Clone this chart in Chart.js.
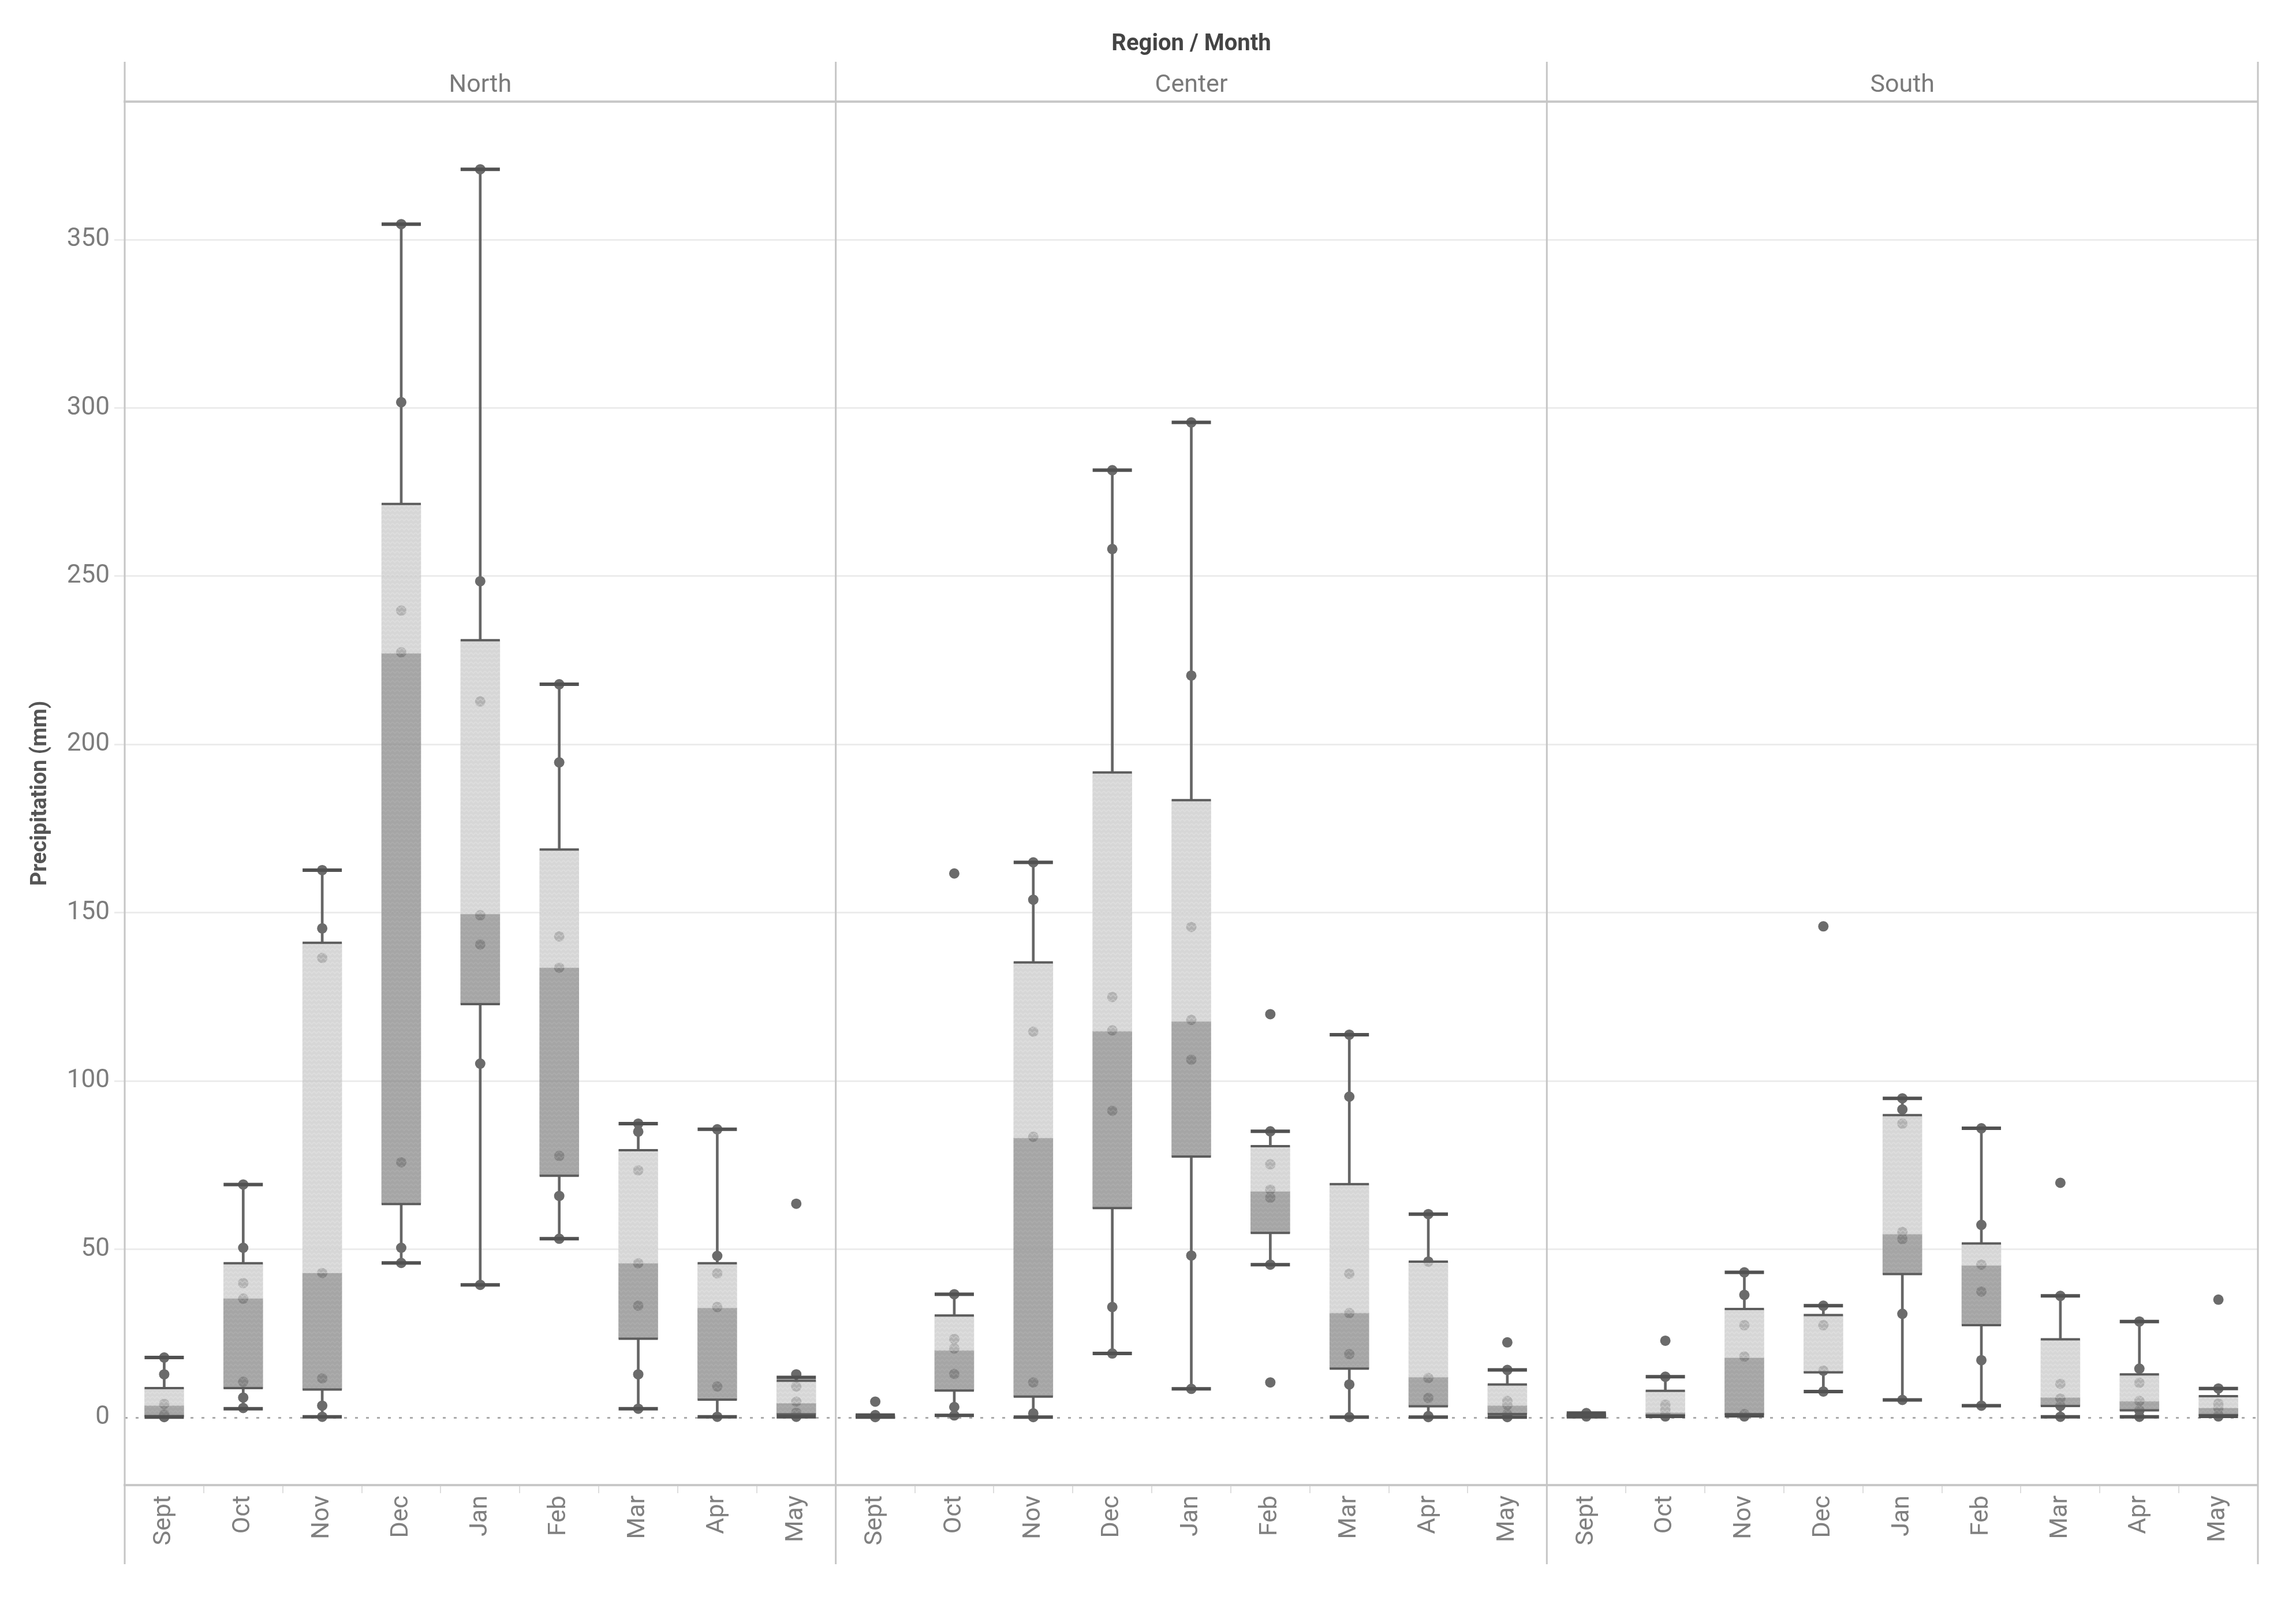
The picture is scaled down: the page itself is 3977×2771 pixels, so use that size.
<!DOCTYPE html>
<html lang="en">
<head>
<meta charset="UTF-8">
<title>Precipitation by Region and Month</title>
<script src="https://cdn.jsdelivr.net/npm/chart.js"></script>
<style>
  html, body { margin: 0; background: #fff; }
</style>
</head>
<body>
<canvas id="boxChart" width="3977" height="2771"></canvas>
<script>
// Categories
const regions = ['North', 'Center', 'South'];
const months = ['Sept', 'Oct', 'Nov', 'Dec', 'Jan', 'Feb', 'Mar', 'Apr', 'May'];
const yTicks = [0, 50, 100, 150, 200, 250, 300, 350];

// Box stats per month: [lower whisker, Q1, median, Q3, upper whisker]
const northBoxes = [
  [0.2, 0.5, 3.6, 8.8, 17.9],
  [2.7, 8.8, 35.4, 45.9, 69.3],
  [0.3, 8.4, 43.0, 141.1, 162.7],
  [46.0, 63.5, 227.1, 271.5, 354.6],
  [39.5, 122.9, 149.6, 231.0, 370.9],
  [53.2, 71.9, 133.7, 168.8, 217.9],
  [2.7, 23.5, 45.9, 79.5, 87.4],
  [0.3, 5.4, 32.6, 45.9, 85.7],
  [0.3, 1.0, 4.3, 11.0, 12.0]
];
const centerBoxes = [
  [0.2, 0.3, 0.5, 0.7, 0.8],
  [0.7, 8.1, 20.0, 30.4, 36.7],
  [0.2, 6.3, 83.1, 135.3, 165.0],
  [19.1, 62.3, 114.8, 191.7, 281.5],
  [8.6, 77.6, 117.7, 183.5, 295.7],
  [45.5, 54.9, 67.2, 80.7, 85.1],
  [0.2, 14.6, 31.1, 69.4, 113.8],
  [0.2, 3.4, 12.0, 46.4, 60.5],
  [0.2, 1.1, 3.6, 9.9, 14.2]
];
const southBoxes = [
  [0.3, 0.5, 0.8, 1.0, 1.4],
  [0.4, 0.7, 1.5, 8.0, 12.2],
  [0.6, 1.1, 17.8, 32.3, 43.2],
  [7.8, 13.5, 13.8, 30.5, 33.3],
  [5.3, 42.7, 54.5, 89.9, 94.9],
  [3.6, 27.5, 45.2, 51.8, 86.0],
  [0.3, 3.5, 6.0, 23.3, 36.2],
  [0.3, 2.2, 4.9, 12.9, 28.6],
  [0.4, 0.8, 2.9, 6.4, 8.7]
];

// Individual observations (mm) per month
const northPoints = [
  [17.9, 12.9, 4.1, 1.0, 0.2],
  [69.3, 50.5, 40.0, 35.4, 10.7, 6.0, 2.9],
  [162.7, 145.4, 136.6, 43.0, 11.7, 3.6, 0.3],
  [354.6, 301.7, 239.8, 227.4, 75.9, 50.5, 46.0],
  [370.9, 248.5, 212.8, 149.3, 140.6, 105.2, 39.5],
  [217.9, 194.7, 143.0, 133.7, 77.8, 65.9, 53.2],
  [87.4, 85.0, 73.5, 45.9, 33.3, 12.9, 2.7],
  [85.7, 48.1, 42.9, 32.9, 9.3, 0.3],
  [63.6, 12.9, 9.3, 4.8, 1.5, 0.3]
];
const centerPoints = [
  [4.8, 0.8, 0.5, 0.2],
  [161.7, 36.7, 23.4, 20.6, 13.0, 3.2, 0.7],
  [165.0, 153.9, 114.7, 83.5, 10.5, 1.3, 0.2],
  [281.5, 258.1, 125.0, 115.1, 91.2, 32.9, 19.1],
  [295.7, 220.5, 145.8, 118.2, 106.4, 48.2, 8.6],
  [119.9, 85.1, 75.3, 67.8, 65.4, 45.5, 10.5],
  [113.8, 95.4, 42.8, 31.1, 18.9, 9.9, 0.2],
  [60.5, 46.4, 11.8, 5.9, 0.5, 0.2],
  [22.4, 14.2, 5.0, 3.8, 1.1, 0.2]
];
const southPoints = [
  [1.4, 0.8, 0.4],
  [22.9, 12.2, 3.9, 2.5, 1.5, 0.4],
  [43.2, 36.5, 27.5, 18.2, 1.1, 0.4],
  [146.0, 33.3, 27.5, 14.0, 7.8],
  [94.9, 91.6, 87.4, 55.2, 53.1, 30.9, 5.3],
  [86.0, 57.3, 45.5, 37.5, 17.1, 3.6],
  [69.8, 36.2, 10.1, 5.7, 3.5, 0.3],
  [28.6, 14.6, 10.4, 5.0, 2.2, 0.3],
  [35.1, 8.7, 4.2, 2.9, 0.8, 0.4]
];

const allBoxes = [northBoxes, centerBoxes, southBoxes];
const allPoints = [northPoints, centerPoints, southPoints];

// one unique x label per region/month
const ids = regions.flatMap(r => months.map(m => r + '|' + m));
const boxes = allBoxes.flat();
const points = allPoints.flatMap((reg, r) =>
  reg.flatMap((vals, m) => vals.map(v => ({ x: ids[r * months.length + m], y: v })))
);

// zigzag texture similar to the original fill
function zigzag(base, stroke) {
  const c = document.createElement('canvas');
  c.width = 8; c.height = 8;
  const g = c.getContext('2d');
  g.fillStyle = base;
  g.fillRect(0, 0, 8, 8);
  g.strokeStyle = stroke;
  g.lineWidth = 2;
  g.beginPath();
  g.moveTo(0, 2); g.lineTo(4, 6); g.lineTo(8, 2);
  g.stroke();
  return g.createPattern(c, 'repeat');
}
const darkFill = zigzag('rgba(140,140,140,0.78)', 'rgba(190,190,190,0.25)');
const lightFill = zigzag('rgba(200,200,200,0.75)', 'rgba(240,240,240,0.3)');

const panelLines = {
  id: 'panelLines',
  beforeDatasetsDraw(chart) {
    const { ctx, chartArea: a, scales: { y } } = chart;
    const y0 = y.getPixelForValue(0);
    ctx.save();
    ctx.strokeStyle = '#ababab';
    ctx.lineWidth = 3;
    ctx.setLineDash([5, 14]);
    ctx.beginPath();
    ctx.moveTo(a.left, y0);
    ctx.lineTo(a.right, y0);
    ctx.stroke();
    ctx.restore();
  },
  afterDraw(chart) {
    const { ctx, chartArea: a } = chart;
    ctx.save();
    ctx.strokeStyle = '#c6c6c6';
    ctx.lineWidth = 3;
    for (let r = 0; r <= regions.length; r++) {
      const x = a.left + (a.right - a.left) * r / regions.length;
      ctx.beginPath();
      ctx.moveTo(x, a.top - 69);
      ctx.lineTo(x, a.bottom + 137);
      ctx.stroke();
    }
    ctx.restore();
  }
};

Chart.defaults.font.family = 'Roboto';

const chart = new Chart(document.getElementById('boxChart'), {
  type: 'bar',
  data: {
    labels: ids,
    datasets: [
      {
        // whisker caps
        type: 'scatter',
        data: boxes.flatMap((b, i) => [{ x: ids[i], y: b[0] }, { x: ids[i], y: b[4] }]),
        pointStyle: 'line',
        pointRadius: 34,
        pointBorderWidth: 6,
        pointBorderColor: '#515151',
        order: 0
      },
      {
        // box edges at Q1 and Q3
        type: 'scatter',
        data: boxes.flatMap((b, i) => [{ x: ids[i], y: b[1] }, { x: ids[i], y: b[3] }]),
        pointStyle: 'line',
        pointRadius: 34,
        pointBorderWidth: 4,
        pointBorderColor: '#5c5c5c',
        order: 1
      },
      {
        // median to Q3
        data: boxes.map(b => [b[2], b[3]]),
        backgroundColor: lightFill,
        barThickness: 68,
        grouped: false,
        order: 2
      },
      {
        // Q1 to median
        data: boxes.map(b => [b[1], b[2]]),
        backgroundColor: darkFill,
        barThickness: 68,
        grouped: false,
        order: 3
      },
      {
        type: 'scatter',
        data: points,
        pointStyle: 'circle',
        pointRadius: 9,
        pointBorderWidth: 0,
        pointBackgroundColor: '#6b6b6b',
        order: 4
      },
      {
        // lower whisker
        data: boxes.map(b => [b[0], b[1]]),
        backgroundColor: '#666666',
        barThickness: 4,
        grouped: false,
        order: 5
      },
      {
        // upper whisker
        data: boxes.map(b => [b[3], b[4]]),
        backgroundColor: '#666666',
        barThickness: 4,
        grouped: false,
        order: 5
      }
    ]
  },
  options: {
    responsive: false,
    animation: false,
    layout: { padding: { left: 0, right: 66, top: 0, bottom: 0 } },
    plugins: {
      legend: { display: false },
      tooltip: { enabled: false }
    },
    scales: {
      x: {
        type: 'category',
        offset: true,
        grid: {
          display: true,
          drawOnChartArea: false,
          offset: true,
          drawTicks: true,
          tickLength: 14,
          color: '#dddddd',
          lineWidth: 2
        },
        border: { display: true, color: '#c8c8c8', width: 4 },
        ticks: {
          autoSkip: false,
          maxRotation: 90,
          minRotation: 90,
          padding: 4,
          color: '#808080',
          font: { size: 43 },
          callback: function (v) { return this.getLabelForValue(v).split('|')[1]; }
        },
        afterFit: s => { s.height = 199; }
      },
      x2: {
        type: 'category',
        position: 'top',
        labels: regions,
        offset: true,
        grid: { display: false },
        border: { display: true, color: '#c8c8c8', width: 4 },
        ticks: { color: '#7a7a7a', font: { size: 43 }, padding: -6 },
        title: {
          display: true,
          text: 'Region / Month',
          color: '#444444',
          font: { size: 40, weight: 'bold' },
          padding: { top: 53, bottom: 0 }
        },
        afterFit: s => { s.height = 176; }
      },
      y: {
        min: -20,
        max: 391,
        afterBuildTicks: s => { s.ticks = yTicks.map(v => ({ value: v })); },
        grid: {
          color: c => (c.tick && c.tick.value === 0 ? 'rgba(0,0,0,0)' : '#ececec'),
          lineWidth: 3,
          drawTicks: true,
          tickLength: 18
        },
        border: { display: false },
        ticks: { color: '#7c7c7c', font: { size: 44 }, padding: 8 },
        title: {
          display: true,
          text: 'Precipitation (mm)',
          color: '#555555',
          font: { size: 38, weight: 'bold' },
          padding: { top: 48, bottom: 0 }
        },
        afterFit: s => { s.width = 216; }
      }
    }
  },
  plugins: [panelLines]
});
</script>
</body>
</html>
